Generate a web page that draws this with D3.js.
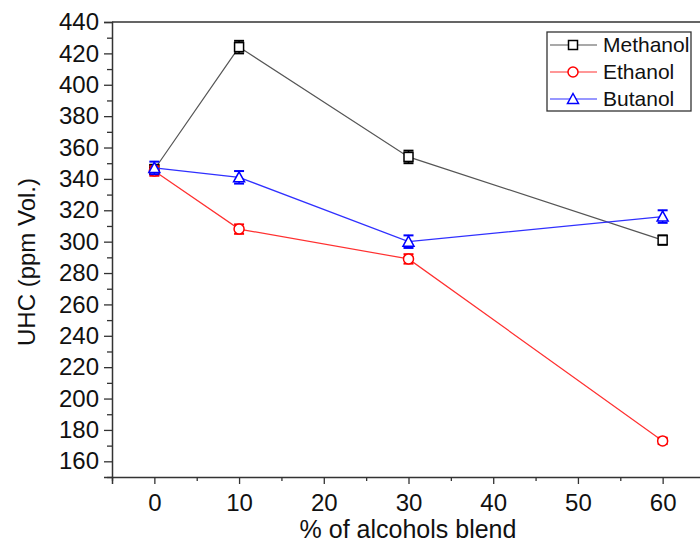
<!DOCTYPE html>
<html>
<head>
<meta charset="utf-8">
<script src="https://cdn.jsdelivr.net/npm/d3@7/dist/d3.min.js"></script>
<style>
  html, body { margin: 0; padding: 0; background: #fff; }
  svg { display: block; font-family: "Liberation Sans", Arial, sans-serif; }
</style>
</head>
<body>
<svg id="chart" width="700" height="545"></svg>
<script>
// Blend levels (% of alcohol in fuel)
const blendLevels = [0, 10, 30, 60];
// UHC emissions, ppm Vol.
const methanol = [346, 424, 354, 301];
const ethanol  = [345, 308, 289, 173];
const butanol  = [347, 341, 300, 316];
// Error bar half-widths
const methanolErr = [3, 4, 4, 3];
const ethanolErr  = [3, 3, 3, 2];
const butanolErr  = [4, 4, 4, 4];
// Axis ticks
const xTicks = [0, 10, 20, 30, 40, 50, 60];
const yTicks = [160, 180, 200, 220, 240, 260, 280, 300, 320, 340, 360, 380, 400, 420, 440];

const series = [
  { name: "Methanol", values: methanol, err: methanolErr, color: "#000000", line: "#555555", shape: "square" },
  { name: "Ethanol",  values: ethanol,  err: ethanolErr,  color: "#ff0000", line: "#ff3030", shape: "circle" },
  { name: "Butanol",  values: butanol,  err: butanolErr,  color: "#0000ff", line: "#3030ff", shape: "triangle" }
];

const svg = d3.select("#chart");
const plotL = 112, plotR = 705, plotT = 22, plotB = 477;

const x = d3.scaleLinear().domain([-5, 65]).range([plotL, plotR]);
const y = d3.scaleLinear().domain([150, 440]).range([plotB, plotT]);

const axisColor = "#333";

// Frame (top and right sides)
svg.append("path")
  .attr("d", `M${plotL},${plotT}H${plotR}V${plotB}`)
  .attr("fill", "none").attr("stroke", axisColor).attr("stroke-width", 1.5);

// Minor ticks
const xMinor = d3.range(-5, 66, 5).filter(v => v % 10 !== 0);
const yMinor = d3.range(150, 441, 10).filter(v => v % 20 !== 0);

const xAxis = svg.append("g").attr("transform", `translate(0,${plotB})`)
  .call(d3.axisBottom(x).tickValues(xTicks).tickSize(7).tickPadding(10).tickFormat(d3.format("d")));
svg.append("g").attr("transform", `translate(0,${plotB})`)
  .call(d3.axisBottom(x).tickValues(xMinor).tickSize(4).tickFormat(""))
  .call(g => g.select(".domain").remove());

const yAxis = svg.append("g").attr("transform", `translate(${plotL},0)`)
  .call(d3.axisLeft(y).tickValues(yTicks).tickSize(8).tickPadding(5).tickFormat(d3.format("d")));
svg.append("g").attr("transform", `translate(${plotL},0)`)
  .call(d3.axisLeft(y).tickValues(yMinor).tickSize(5).tickFormat(""))
  .call(g => g.select(".domain").remove());

svg.selectAll(".domain").attr("stroke", axisColor).attr("stroke-width", 1.5);
svg.selectAll(".tick line").attr("stroke", axisColor).attr("stroke-width", 1.3);
xAxis.selectAll("text").attr("font-size", 24).attr("fill", "#111")
  .attr("font-family", "Liberation Sans, Arial, sans-serif");
yAxis.selectAll("text").attr("font-size", 24).attr("fill", "#111")
  .attr("font-family", "Liberation Sans, Arial, sans-serif");

// Axis titles
svg.append("text")
  .attr("x", 408).attr("y", 538)
  .attr("text-anchor", "middle").attr("font-size", 25).attr("fill", "#111")
  .text("% of alcohols blend");
svg.append("text")
  .attr("transform", "translate(35,262) rotate(-90)")
  .attr("text-anchor", "middle").attr("font-size", 24).attr("fill", "#111")
  .text("UHC (ppm Vol.)");

function drawMarker(g, shape, cx, cy, color) {
  if (shape === "square") {
    g.append("rect").attr("x", cx - 4.5).attr("y", cy - 4.5).attr("width", 9).attr("height", 9)
      .attr("fill", "#fff").attr("stroke", color).attr("stroke-width", 1.5);
  } else if (shape === "circle") {
    g.append("circle").attr("cx", cx).attr("cy", cy).attr("r", 5)
      .attr("fill", "#fff").attr("stroke", color).attr("stroke-width", 1.5);
  } else {
    g.append("path")
      .attr("d", `M${cx},${cy - 5.5}L${cx + 5.5},${cy + 4.5}L${cx - 5.5},${cy + 4.5}Z`)
      .attr("fill", "#fff").attr("stroke", color).attr("stroke-width", 1.5);
  }
}

const line = d3.line().x(d => x(d[0])).y(d => y(d[1]));

series.forEach(s => {
  const g = svg.append("g");
  const pts = blendLevels.map((b, i) => [b, s.values[i]]);
  g.append("path").datum(pts).attr("d", line)
    .attr("fill", "none").attr("stroke", s.line).attr("stroke-width", 1.2);
  pts.forEach((p, i) => {
    const cx = x(p[0]);
    const y1 = y(p[1] + s.err[i]), y2 = y(p[1] - s.err[i]);
    g.append("line").attr("x1", cx).attr("x2", cx).attr("y1", y1).attr("y2", y2)
      .attr("stroke", s.color).attr("stroke-width", 1.5);
    [y1, y2].forEach(yy => g.append("line")
      .attr("x1", cx - 5).attr("x2", cx + 5).attr("y1", yy).attr("y2", yy)
      .attr("stroke", s.color).attr("stroke-width", 2));
    drawMarker(g, s.shape, cx, y(p[1]), s.color);
  });
});

// Legend
const lg = svg.append("g");
lg.append("rect").attr("x", 547).attr("y", 32).attr("width", 144).attr("height", 79)
  .attr("fill", "#fff").attr("stroke", axisColor).attr("stroke-width", 1.3);
series.forEach((s, i) => {
  const ly = 45 + i * 27;
  lg.append("line").attr("x1", 550).attr("x2", 597).attr("y1", ly).attr("y2", ly)
    .attr("stroke", s.line).attr("stroke-width", 1.2);
  drawMarker(lg, s.shape, 573, ly, s.color);
  lg.append("text").attr("x", 603).attr("y", ly + 7).attr("font-size", 21).attr("fill", "#111")
    .text(s.name);
});
</script>
</body>
</html>
